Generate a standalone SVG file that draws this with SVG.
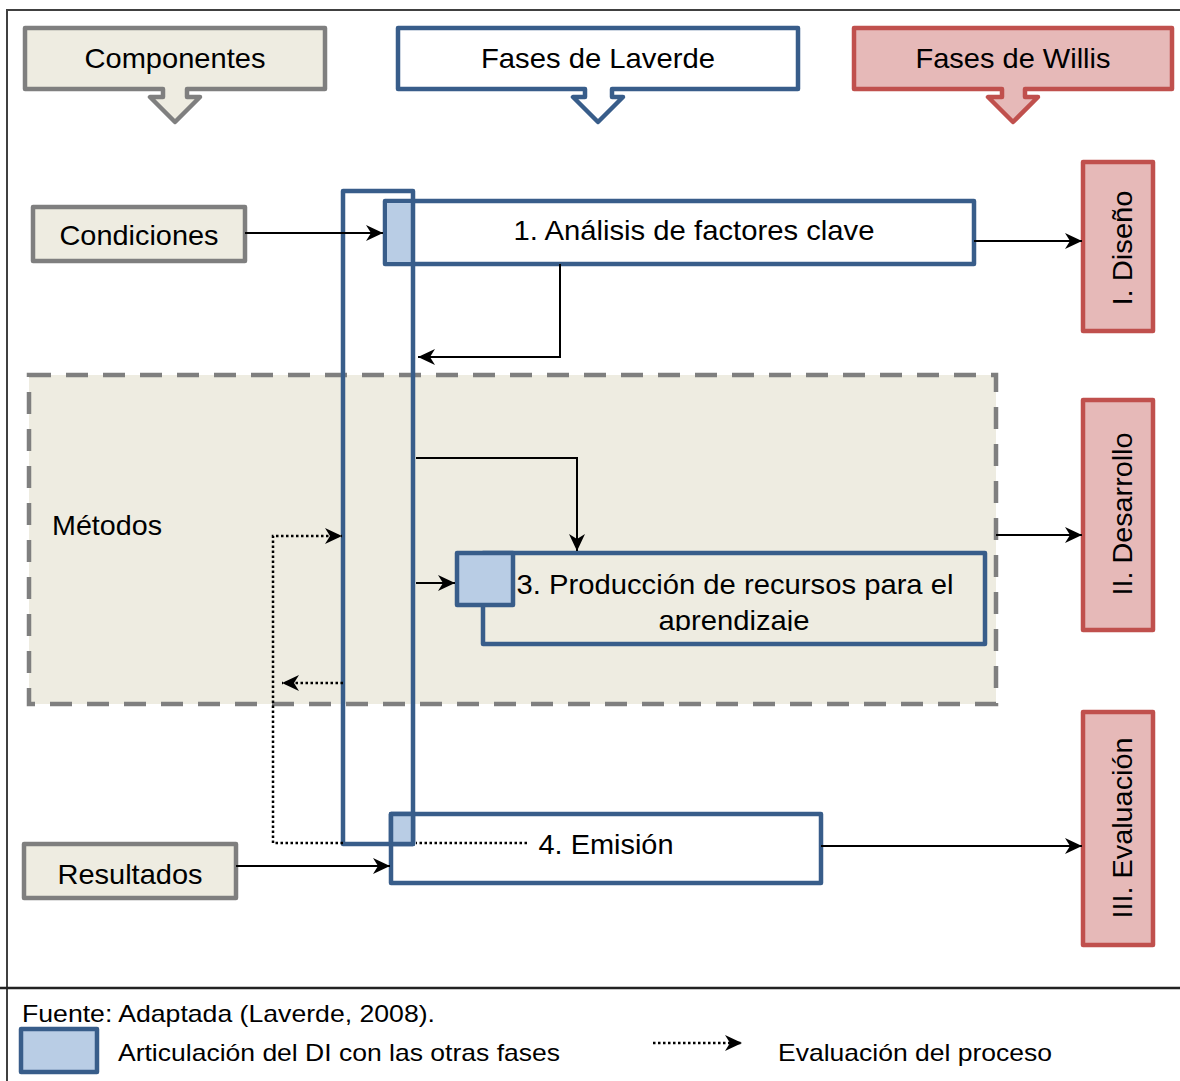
<svg xmlns="http://www.w3.org/2000/svg" width="1180" height="1081" viewBox="0 0 1180 1081">
  <defs>
    <style>
      .t { font-family: "Liberation Sans", Arial, sans-serif; font-size: 28px; fill: #000; }
      .f { font-family: "Liberation Sans", Arial, sans-serif; font-size: 24px; fill: #000; }
      .grey { fill: #EEECE1; stroke: #7F7F7F; stroke-width: 4.5; stroke-linejoin: round; }
      .blue { fill: #FFFFFF; stroke: #385D8A; stroke-width: 4.5; stroke-linejoin: round; }
      .red { fill: #E6B9B8; stroke: #C0504D; stroke-width: 4.5; stroke-linejoin: round; }
      .art { fill: #B9CDE5; stroke: #385D8A; stroke-width: 4.5; stroke-linejoin: round; }
      .ln { fill: none; stroke: #000; stroke-width: 2; }
      .dot { fill: none; stroke: #000; stroke-width: 2.5; stroke-dasharray: 2.5 2.5; }
    </style>
    <marker id="arr" markerUnits="userSpaceOnUse" viewBox="0 0 17 16" refX="17" refY="8" markerWidth="17" markerHeight="16" orient="auto">
      <path d="M0,0 L17,8 L0,16 L5,8 Z" fill="#000"/>
    </marker>
    <clipPath id="clip3">
      <rect x="485" y="555" width="498" height="76"/>
    </clipPath>
  </defs>

  <rect x="0" y="0" width="1180" height="1081" fill="#FFFFFF"/>

  <!-- frame -->
  <g id="frame" fill="none">
    <path d="M7,1081 V10 H1180" stroke="#404040" stroke-width="2"/>
    <path d="M0,988 H1180" stroke="#222" stroke-width="2.5"/>
  </g>

  <!-- column headers -->
  <g id="hdr-componentes">
    <path class="grey" d="M25,28 H325 V89 H187 V97 H200 L175,122 L150,97 H163 V89 H25 Z"/>
    <text class="t" x="175" y="68" text-anchor="middle" textLength="181" lengthAdjust="spacingAndGlyphs">Componentes</text>
  </g>
  <g id="hdr-laverde">
    <path class="blue" d="M398,28 H798 V89 H612 V97 H623 L598,122 L573,97 H585 V89 H398 Z"/>
    <text class="t" x="598" y="68" text-anchor="middle" textLength="234" lengthAdjust="spacingAndGlyphs">Fases de Laverde</text>
  </g>
  <g id="hdr-willis">
    <path class="red" d="M854,28 H1172 V89 H1025 V97 H1038 L1013,122 L988,97 H1002 V89 H854 Z"/>
    <text class="t" x="1013" y="68" text-anchor="middle" textLength="195" lengthAdjust="spacingAndGlyphs">Fases de Willis</text>
  </g>

  <!-- methods area -->
  <g id="metodos">
    <rect x="29" y="375" width="967" height="329" fill="#EEECE1" stroke="#7F7F7F" stroke-width="4.5" stroke-dasharray="22 15"/>
    <text class="t" x="52" y="535" textLength="110" lengthAdjust="spacingAndGlyphs">Métodos</text>
  </g>

  <!-- components -->
  <g id="condiciones">
    <rect class="grey" x="33" y="207" width="212" height="54"/>
    <text class="t" x="139" y="245" text-anchor="middle" textLength="159" lengthAdjust="spacingAndGlyphs">Condiciones</text>
  </g>
  <g id="resultados">
    <rect class="grey" x="24" y="844" width="212" height="54"/>
    <text class="t" x="130" y="884" text-anchor="middle" textLength="145" lengthAdjust="spacingAndGlyphs">Resultados</text>
  </g>

  <!-- Laverde phases -->
  <g id="fase1">
    <rect class="blue" x="385" y="201" width="589" height="63"/>
    <rect x="387" y="203" width="26" height="59" fill="#B9CDE5"/>
    <text class="t" x="694" y="240" text-anchor="middle" textLength="361" lengthAdjust="spacingAndGlyphs">1. Análisis de factores clave</text>
  </g>
  <g id="fase3">
    <rect class="blue" x="483" y="553" width="502" height="91" style="fill:#EEECE1"/>
    <rect class="art" x="457" y="553" width="56" height="52"/>
    <g clip-path="url(#clip3)">
      <text class="t" x="735" y="594" text-anchor="middle" textLength="437" lengthAdjust="spacingAndGlyphs">3. Producción de recursos para el</text>
      <text class="t" x="734" y="630" text-anchor="middle" textLength="151" lengthAdjust="spacingAndGlyphs">aprendizaje</text>
    </g>
  </g>
  <g id="fase4">
    <rect class="blue" x="391" y="814" width="430" height="69"/>
    <text class="t" x="606" y="854" text-anchor="middle" textLength="135" lengthAdjust="spacingAndGlyphs">4. Emisión</text>
  </g>

  <!-- instructional design column -->
  <g id="di">
    <rect x="343" y="191" width="70" height="653" fill="none" stroke="#385D8A" stroke-width="4.5" stroke-linejoin="round"/>
    <rect class="art" x="391" y="814" width="22" height="30"/>
  </g>

  <!-- Willis phases -->
  <g id="willis1">
    <rect class="red" x="1083" y="162" width="70" height="169"/>
    <text class="t" transform="translate(1132,248) rotate(-90)" text-anchor="middle" textLength="115" lengthAdjust="spacingAndGlyphs">I. Diseño</text>
  </g>
  <g id="willis2">
    <rect class="red" x="1083" y="400" width="70" height="230"/>
    <text class="t" transform="translate(1132,514) rotate(-90)" text-anchor="middle" textLength="163" lengthAdjust="spacingAndGlyphs">II. Desarrollo</text>
  </g>
  <g id="willis3">
    <rect class="red" x="1083" y="712" width="70" height="233"/>
    <text class="t" transform="translate(1132,828) rotate(-90)" text-anchor="middle" textLength="181" lengthAdjust="spacingAndGlyphs">III. Evaluación</text>
  </g>

  <!-- connectors -->
  <g id="connectors">
    <path class="ln" d="M245,233 H383" marker-end="url(#arr)"/>
    <path class="ln" d="M560,264 V357 H418" marker-end="url(#arr)"/>
    <path class="ln" d="M974,241 H1082" marker-end="url(#arr)"/>
    <path class="ln" d="M416,458 H577 V551" marker-end="url(#arr)"/>
    <path class="ln" d="M416,583 H455" marker-end="url(#arr)"/>
    <path class="ln" d="M996,535 H1082" marker-end="url(#arr)"/>
    <path class="ln" d="M236,866 H390" marker-end="url(#arr)"/>
    <path class="ln" d="M821,846 H1082" marker-end="url(#arr)"/>
    <path class="dot" d="M527,843 H416"/>
    <path class="dot" d="M343,843 H273 V536 H342" marker-end="url(#arr)"/>
    <path class="dot" d="M343,683 H282" marker-end="url(#arr)"/>
  </g>

  <!-- footer and legend -->
  <g id="legend">
    <text class="f" x="22" y="1022" textLength="413" lengthAdjust="spacingAndGlyphs">Fuente: Adaptada (Laverde, 2008).</text>
    <rect class="art" x="21" y="1029" width="76" height="43"/>
    <text class="f" x="118" y="1061" textLength="442" lengthAdjust="spacingAndGlyphs">Articulación del DI con las otras fases</text>
    <path class="dot" d="M653,1043 H742" stroke-width="2" marker-end="url(#arr)"/>
    <text class="f" x="778" y="1061" textLength="274" lengthAdjust="spacingAndGlyphs">Evaluación del proceso</text>
  </g>
</svg>
